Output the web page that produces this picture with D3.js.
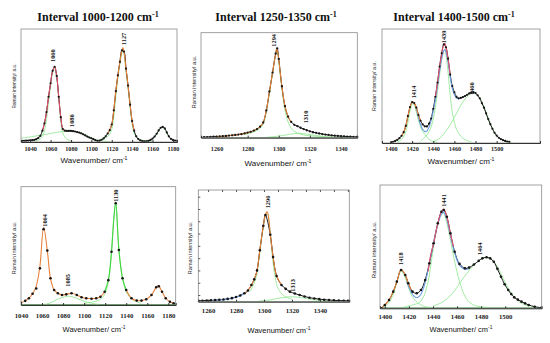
<!DOCTYPE html>
<html>
<head>
<meta charset="utf-8">
<script src="https://cdn.jsdelivr.net/npm/d3@7"></script>
<style>
  body { margin: 0; background: #fff; }
  svg { display: block; }
</style>
</head>
<body>
<svg id="chart" width="550" height="343"></svg>
<script>
// ---------- Panel 1: interval 1000-1200 (top row) ----------
const p1Spectrum = [[1032,1.0],[1034,1.1],[1036,1.2],[1038,1.3],[1040,1.5],[1042,1.6],[1044,1.8],[1046,2.5],[1048,3.6],[1050,5.5],
  [1052,10],[1054,16.5],[1056,26.5],[1058,40],[1060,52],[1062,63],[1064,66.6],[1066,58.5],[1068,40],[1070,22],[1072,11.5],[1074,10],
  [1076,9.8],[1078,9.8],[1080,9.8],[1082,9.6],[1084,9.3],[1086,8.8],[1088,8.3],[1090,7.7],[1092,6.8],[1094,5.8],[1096,4.8],[1098,4.0],
  [1100,3.3],[1102,2.5],[1104,1.6],[1106,1.0],[1108,1.2],[1110,2.0],[1112,3.2],[1114,5],[1116,7.5],[1118,10.5],[1120,15.5],[1122,28],
  [1124,45],[1126,59],[1128,71],[1130,81],[1132,80],[1134,65],[1136,50],[1138,33],[1140,18.5],[1142,10],[1144,5],[1146,2.6],[1148,1.4],
  [1150,0.8],[1152,0.5],[1154,0.6],[1156,1.0],[1158,1.8],[1160,3.0],[1162,4.8],[1164,7.3],[1166,10.2],[1168,12.6],[1170,13.3],[1172,12],
  [1174,8.5],[1176,5],[1178,2.8],[1180,1.8],[1182,1.3],[1184,1.0]];
const p1FitPink = [[1052,10],[1054,16.5],[1056,26.5],[1058,40],[1060,52],[1062,63],[1064,66.6],[1066,58.5],[1068,40],[1070,22],[1072,11.5],[1074,10]];
const p1FitOrange = [[1116,7.5],[1118,10.5],[1120,15.5],[1122,28],[1124,45],[1126,59],[1128,71],[1130,81],[1131,83.5],[1132,80],[1134,65],[1136,50],[1138,33],[1140,18.5],[1142,10]];
const p1Comp1060 = [[1044,0.5],[1048,1.5],[1052,5],[1054,10],[1056,20],[1058,35],[1060,49],[1062,61],[1064,65],[1066,57],[1068,38],[1070,19],[1072,8],[1076,2.5],[1082,0.8]];
const p1Comp1080 = [[1031,3.3],[1040,4.5],[1050,6],[1060,7.5],[1068,8.8],[1074,9.5],[1080,9.6],[1086,8.9],[1092,7.2],[1098,4.5],[1104,2],[1110,0.9],[1118,0.4]];
const p1Comp1127 = [[1104,1],[1110,2],[1114,3.5],[1118,7],[1120,11],[1122,22],[1124,40],[1126,56],[1128,69],[1130,79],[1131,81.5],[1132,78],[1134,62],[1136,47],[1138,30],[1140,16],[1142,8],[1146,3],[1152,1.2],[1160,0.5]];
const p1Comp1170 = [[1150,0.4],[1156,1],[1160,2.6],[1164,6.5],[1166,9.5],[1168,12],[1170,12.9],[1172,11.5],[1174,8],[1176,4.5],[1180,1.6],[1184,0.7]];
const p1Ticks = [1040,1060,1080,1100,1120,1140,1160,1180];
const p1PeakText = ["1060","1080","1127"];
const p1PeakAt = [[1062.5,70.8],[1081.1,13.3],[1131.9,85.8]];

// ---------- Panel 2: interval 1250-1350 (top row) ----------
const p2Spectrum = [[1250,0.3],[1252,0.5],[1254,0.6],[1256,0.8],[1258,0.9],[1260,1.1],[1262,1.2],[1264,1.4],[1266,1.6],[1268,2.0],
  [1270,2.3],[1272,2.6],[1274,3.0],[1276,3.4],[1278,4.1],[1280,4.9],[1282,5.6],[1284,6.8],[1286,8.2],[1288,10.5],[1290,14.5],[1292,26],
  [1294,44],[1296,62],[1298,80],[1299,85],[1300,75],[1302,49],[1304,30],[1306,20],[1308,15],[1310,12.3],[1312,11],[1314,9.5],[1316,8.2],
  [1318,7.1],[1320,6.1],[1322,5.2],[1324,4.6],[1326,4.0],[1328,3.5],[1330,3.0],[1332,2.6],[1334,2.2],[1336,1.9],[1338,1.7],[1340,1.5],
  [1342,1.3],[1344,1.1],[1346,1.0],[1348,0.8],[1350,0.7]];
const p2FitOrange = [[1260,1.1],[1266,1.6],[1272,2.6],[1278,4.1],[1282,5.6],[1286,8.2],[1288,10.5],[1290,14.5],[1292,26],[1294,44],[1296,62],
  [1298,80],[1298.8,85.7],[1300,74],[1302,49],[1304,30],[1306,20],[1308,15]];
const p2Comp1294 = [[1278,3],[1284,5.5],[1288,9],[1290,13],[1292,24],[1294,42],[1296,61],[1298,79],[1298.8,84],[1300,72],[1302,46],[1304,26],
  [1306,15],[1308,9],[1310,6],[1314,3.3],[1320,1.8],[1330,0.8]];
const p2Comp1310 = [[1292,0.4],[1298,1.2],[1302,2],[1306,3],[1310,3.9],[1313,4.2],[1316,3.9],[1320,3],[1326,1.7],[1334,0.7],[1344,0.3]];
const p2Ticks = [1260,1280,1300,1320,1340];
const p2PeakText = ["1294","1310"];
const p2PeakAt = [[1296.8,86.7],[1317.5,13.7]];

// ---------- Panel 3: interval 1400-1500 (top row) ----------
const p3Spectrum = [[1400,0.6],[1402,1.1],[1404,1.8],[1406,2.8],[1408,4.2],[1410,6.3],[1412,9.5],[1414,15],[1416,23.5],[1418,31.5],
  [1420,35.8],[1422,35],[1424,31],[1426,24.5],[1428,19.5],[1430,16.3],[1432,14.6],[1434,14.5],[1436,17],[1438,21.5],[1440,30],[1442,40.5],
  [1444,53],[1446,67],[1448,78.7],[1450,86.5],[1452,84],[1454,74],[1456,60],[1458,50],[1460,44.5],[1462,40.5],[1464,39.2],[1466,39.5],
  [1468,40.3],[1470,41.2],[1472,42.3],[1474,43.5],[1476,44.4],[1478,44.7],[1480,43.8],[1482,41.8],[1484,39.2],[1486,35],[1488,31],
  [1490,26],[1492,21],[1494,16.5],[1496,12.5],[1498,9],[1500,6.5],[1502,4.6],[1504,3.4],[1506,2.5],[1508,1.8],[1510,1.3],[1512,1.0]];
const p3FitOrange = [[1410,6.3],[1412,9.5],[1414,15],[1416,23.5],[1418,31.5],[1420,35.8],[1421,36.2],[1422,35],[1424,31],[1426,24.5],[1428,19.5]];
const p3FitRed = [[1442,40.5],[1444,53],[1446,67],[1448,78.7],[1450,86.5],[1451,87.5],[1452,84],[1454,74],[1456,60]];
const p3FitBlue = [[1424,30],[1426,22.5],[1428,16],[1430,12],[1432,10],[1434,10.5],[1436,14],[1438,20],[1440,28],[1442,38],[1444,50],
  [1446,63],[1448,74],[1450,81],[1451,82],[1452,80],[1454,71],[1456,58],[1458,48],[1460,42.5],[1462,39.5],[1464,38.7]];
const p3Comp1414 = [[1406,1],[1410,3],[1414,10],[1416,18],[1418,28],[1420,34],[1421,34.5],[1422,33.5],[1424,27],[1426,20],[1428,14],
  [1430,10],[1432,7.5],[1434,5],[1438,2],[1444,0.6]];
const p3Comp1439 = [[1428,1.5],[1432,5],[1434,7],[1436,10],[1438,14],[1440,21],[1442,31],[1444,45],[1446,60],[1448,73],[1450,81],[1451,82],
  [1452,78],[1454,62],[1456,42],[1458,27],[1460,18],[1462,12],[1466,6],[1470,3],[1476,1]];
const p3Comp1460 = [[1440,1.5],[1446,4],[1450,8],[1454,13],[1458,19],[1462,26],[1466,33],[1470,38.5],[1474,42.5],[1478,44],[1482,42],
  [1486,36],[1490,27],[1494,17],[1498,9],[1502,4.5],[1508,1.5],[1514,0.5]];
const p3Ticks = [1400,1420,1440,1460,1480,1500];
const p3PeakText = ["1414","1439","1460"];
const p3PeakAt = [[1421.1,39.2],[1450.4,87.5],[1476.4,42.1]];

// ---------- Panel 4: interval 1000-1200 (bottom row) ----------
const p4Spectrum = [[1040,1.9],[1044,3.5],[1047.5,5.7],[1051,9.5],[1054.5,14],[1058,31],[1061.5,64],[1065,46],[1068,22.6],[1071.5,12.7],
  [1075,9.9],[1079,8.5],[1083,9.0],[1088,9.9],[1093,8.5],[1097.5,6.5],[1102,5.7],[1107,5.3],[1111.5,5.7],[1115.5,7.0],[1119.5,11.2],
  [1123,21],[1126,45],[1130,86],[1133,46.5],[1136.5,22.6],[1140,12.7],[1145,5.7],[1150,3.7],[1154.5,3.7],[1159,4.8],[1164,8.5],
  [1168.5,15],[1171,15.8],[1174,11.2],[1177.5,5.7],[1181.5,2.8],[1185,1.4]];
const p4FitOrangeA = [[1040,1.9],[1044,3.5],[1047.5,5.7],[1051,9.5],[1054.5,16],[1058,33],[1061.5,65.7],[1065,46],[1068,22.6],[1071.5,12.7],
  [1075,9.9],[1079,8.5],[1083,9],[1088,9.9],[1093,8.5],[1097.5,6.5],[1102,5.7],[1107,5.3],[1111.5,5.7],[1115.5,7],[1119.5,11.2]];
const p4FitGreen = [[1119.5,11.2],[1123,21],[1126,45],[1128,70],[1130,87],[1133,46.5],[1136.5,22.6],[1140,12.7]];
const p4FitOrangeB = [[1140,12.7],[1145,5.7],[1150,3.7],[1154.5,3.7],[1159,4.8],[1164,8.5],[1168.5,15],[1170.5,16.2],[1174,11.2],
  [1177.5,5.7],[1181.5,2.8],[1185,1.4]];
const p4Comp1085 = [[1062,0.5],[1067,1.5],[1074,4.5],[1080,6.5],[1085,7.4],[1090,6.6],[1096,4.5],[1102,2.6],[1108,1.3],[1114,0.5]];
const p4Comp1130 = [[1100,1.5],[1108,2.5],[1114,4],[1118,7],[1121,12],[1124,25],[1126,45],[1128,72],[1130,86],[1132,60],[1134,38],
  [1137,20],[1140,11],[1146,4.5],[1154,1.5]];
const p4Ticks = [1040,1060,1080,1100,1120,1140,1160,1180];
const p4PeakText = ["1064","1085","1130"];
const p4PeakAt = [[1062.8,66.2],[1084.9,15.5],[1129.8,87.3]];

// ---------- Panel 5: interval 1250-1350 (bottom row) ----------
const p5Spectrum = [[1253,0.8],[1256,0.9],[1259,1.0],[1262,1.2],[1265,1.4],[1268,1.7],[1271,2.0],[1274,2.5],[1277,3.2],[1280,4.2],
  [1283,5.6],[1286,7.6],[1288.5,10],[1291,15],[1293,20],[1295,28],[1297,46],[1299.5,68],[1301,77.6],[1304.5,60],[1306.5,40],[1309,23],
  [1312.5,15],[1315.5,11.5],[1318.5,9],[1322,7.3],[1325.5,6],[1329,4.6],[1332.5,3.6],[1336,2.9],[1339.5,2.3],[1343,1.8],[1346.5,1.5],
  [1350,1.2],[1353.5,1.0],[1357,0.9],[1360,0.8]];
const p5FitOrange = [[1286,7.6],[1288.5,10],[1291,15],[1293,20],[1295,28],[1297,46],[1299.5,68],[1301,77.6],[1302.3,80.6],[1303.5,73],
  [1304.5,60],[1306.5,40],[1309,23],[1312.5,15]];
const p5FitBlue = [[1262,1.1],[1268,1.5],[1274,2.3],[1280,3.9],[1285,6.6],[1289,10]];
const p5Comp1296 = [[1290,9],[1294,20],[1297,44],[1299.5,67],[1301,77],[1302.3,80],[1304,68],[1306,40],[1308,22],[1310,12],[1314,5.5],[1320,2.2]];
const p5Comp1313 = [[1296,0.5],[1302,1.2],[1306,2],[1310,3],[1314,3.8],[1318,4.3],[1321,4.4],[1324,4.1],[1328,3.3],[1334,2],[1342,0.9],[1352,0.3]];
const p5Ticks = [1260,1280,1300,1320,1340];
const p5TopTicks = [1260,1270,1280,1290,1300,1310,1320,1330,1340,1350,1360];
const p5LeftTicks = [6,17,28,39,50,61,72,83,94];
const p5PeakText = ["1296","1313"];
const p5PeakAt = [[1303,83.6],[1320.9,9.0]];

// ---------- Panel 6: interval 1400-1500 (bottom row) ----------
const p6Spectrum = [[1397,0],[1400,2.7],[1403.5,6.7],[1407,13.5],[1410,21.6],[1413.5,31.1],[1417,27],[1419.5,20.3],[1423,13.5],
  [1426.5,12.2],[1430,14.8],[1433.5,23],[1437,36.5],[1440.5,52.7],[1444,68.9],[1447,78.3],[1449,79.7],[1451.5,74.3],[1454.5,60.8],
  [1458,45.9],[1462,36],[1466.5,32.5],[1470,33],[1474,35.5],[1478,38.5],[1481,40.5],[1484.5,41.4],[1487.5,40.5],[1490.5,37.8],
  [1493.5,32],[1496.5,25.6],[1499.5,19.5],[1502.5,14.8],[1505,11.5],[1507.5,8.9],[1510.5,7],[1513.5,5.4],[1516.5,4],[1519.5,2.7],
  [1524.5,1.3],[1530,0.5]];
const p6FitOrange = [[1398,0.8],[1400,2.7],[1403.5,6.7],[1407,13.5],[1410,21.6],[1413.5,31.5],[1417,27],[1419.5,20.3],[1422,15]];
const p6FitBlue = [[1418,22],[1421,15],[1424,10],[1426.5,8.5],[1429,10],[1432,16],[1435,27],[1438,41],[1441,56],[1444,68],[1446.8,76],
  [1448.8,78],[1451,74],[1454,61],[1458,45],[1462,35],[1466.5,31.5],[1470,32]];
const p6FitRed = [[1436,30],[1438,43],[1440.5,52.7],[1444,68.9],[1447,78.3],[1449,80.5],[1451.5,74.3],[1454.5,60.8],[1457,50]];
const p6Comp1418 = [[1398,1],[1402,3],[1405,7],[1408,14],[1410,21],[1413.5,30],[1416,27],[1419,19],[1422,11],[1426,5.5],[1428,4],[1432,1.8],[1438,0.6]];
const p6Comp1441 = [[1416,1],[1422,2.5],[1426,3.5],[1428,4],[1432,9],[1436,22],[1440,47],[1444,68],[1446.8,76],[1448.8,77],[1451,71],
  [1454,58],[1458,38],[1462,22],[1466,11],[1470,5],[1476,2],[1484,0.8]];
const p6Comp1464 = [[1440,2],[1446,4],[1452,8],[1456,12],[1460,17],[1464,23],[1468,28],[1472,33],[1476,37],[1480,40],[1484.3,41],
  [1488,40],[1492,36],[1496,29],[1500,21],[1506,11],[1512,5],[1520,1.5]];
const p6Ticks = [1400,1420,1440,1460,1480,1500];
const p6PeakText = ["1418","1441","1464"];
const p6PeakAt = [[1413.3,35.1],[1448.8,82.4],[1478.8,43.2]];

// ---------- colours ----------
const cComp = "#8be68b", cOrange = "#e8803a", cPink = "#e2506e", cBlue = "#6c9de2", cGreenFit = "#3ed43e", cDot = "#161616";

// layout for each panel (positions in px)
const panels = [
  { id: 1, spec: p1Spectrum, comps: [p1Comp1080, p1Comp1060, p1Comp1127, p1Comp1170],
    fits: [{ pts: p1FitPink, c: cPink }, { pts: p1FitOrange, c: cOrange }],
    peakText: p1PeakText, peakAt: p1PeakAt, ticks: p1Ticks, xDom: [1031, 1184],
    box: { l: 21, t: 29, r: 177, b: 142 }, dataLine: true, r: 1.1, tickPad: 5, tickSize: 6.2,
    title: "Interval 1000-1200 cm", titleX: 98, xlabX: 94, xlabY: 160, xlabSize: 8, ylabX: 14, ylabY: 86, ylabSize: 4.8 },
  { id: 2, spec: p2Spectrum, comps: [p2Comp1294, p2Comp1310], baseline: { c: cComp, w: 1 },
    fits: [{ pts: p2FitOrange, c: cOrange }],
    peakText: p2PeakText, peakAt: p2PeakAt, ticks: p2Ticks, xDom: [1250, 1350.5],
    box: { l: 201, t: 32.7, r: 357.3, b: 137.7 }, dataLine: true, r: 1.15, tickPad: 8.5, tickSize: 6.2,
    title: "Interval 1250-1350 cm", titleX: 276, xlabX: 278, xlabY: 163.3, xlabSize: 8, ylabX: 194, ylabY: 82, ylabSize: 5.6 },
  { id: 3, spec: p3Spectrum, comps: [p3Comp1414, p3Comp1439, p3Comp1460],
    fits: [{ pts: p3FitBlue, c: cBlue }, { pts: p3FitOrange, c: cOrange }, { pts: p3FitRed, c: cPink }],
    peakText: p3PeakText, peakAt: p3PeakAt, ticks: p3Ticks, xDom: [1391.5, 1541],
    box: { l: 382, t: 29, r: 540, b: 143 }, dataLine: true, r: 1.1, tickPad: 3.5, tickSize: 6.2,
    title: "Interval 1400-1500 cm", titleX: 454, xlabX: 461, xlabY: 160.7, xlabSize: 8, ylabX: 374, ylabY: 86, ylabSize: 5.3 },
  { id: 4, spec: p4Spectrum, comps: [p4Comp1085, p4Comp1130], baseline: { c: "#2a8a2a", w: 1.6 },
    fits: [{ pts: p4FitOrangeA, c: cOrange }, { pts: p4FitGreen, c: cGreenFit }, { pts: p4FitOrangeB, c: cOrange }],
    peakText: p4PeakText, peakAt: p4PeakAt, ticks: p4Ticks, xDom: [1040, 1187],
    box: { l: 21, t: 186.7, r: 175.7, b: 305 }, dataLine: false, r: 1.3, tickPad: 8, tickSize: 6.8,
    xlabX: 94, xlabY: 329.3, xlabSize: 7.5, ylabX: 14, ylabY: 248, ylabSize: 5.6 },
  { id: 5, spec: p5Spectrum, comps: [p5Comp1296, p5Comp1313], baseline: { c: cComp, w: 1 },
    fits: [{ pts: p5FitBlue, c: cBlue }, { pts: p5FitOrange, c: cOrange }],
    peakText: p5PeakText, peakAt: p5PeakAt, ticks: p5Ticks, xDom: [1253, 1361],
    topTicks: p5TopTicks, leftTicks: p5LeftTicks,
    box: { l: 198.3, t: 190, r: 349.3, b: 301.7 }, dataLine: true, r: 1.3, tickPad: 6, tickSize: 6.8,
    xlabX: 279, xlabY: 330, xlabSize: 7.5, ylabX: 190, ylabY: 248, ylabSize: 5.6 },
  { id: 6, spec: p6Spectrum, comps: [p6Comp1418, p6Comp1441, p6Comp1464], baseline: { c: "#2a8a2a", w: 1.6 },
    fits: [{ pts: p6FitBlue, c: cBlue }, { pts: p6FitOrange, c: cOrange }, { pts: p6FitRed, c: cPink }],
    peakText: p6PeakText, peakAt: p6PeakAt, ticks: p6Ticks, xDom: [1396, 1530.3],
    box: { l: 380, t: 185, r: 541.7, b: 308.3 }, dataLine: true, r: 1.3, tickPad: 6, tickSize: 6.8,
    xlabX: 461, xlabY: 329.3, xlabSize: 7.5, ylabX: 374, ylabY: 250, ylabSize: 6 }
];

const svg = d3.select("#chart");
const serif = "'Liberation Serif', 'Times New Roman', serif";
const sans = "'Liberation Sans', Arial, sans-serif";

panels.forEach(drawPanel);

function drawPanel(p) {
  const b = p.box;
  const x = d3.scaleLinear().domain(p.xDom).range([b.l, b.r]);
  const y = d3.scaleLinear().domain([0, 100]).range([b.b, b.t]);
  const g = svg.append("g");

  svg.append("clipPath").attr("id", "clip" + p.id)
    .append("rect").attr("x", b.l).attr("y", b.t).attr("width", b.r - b.l).attr("height", b.b - b.t);
  const plot = g.append("g").attr("clip-path", `url(#clip${p.id})`);

  const smooth = d3.line().x(d => x(d[0])).y(d => y(d[1])).curve(d3.curveCatmullRom.alpha(0.5));
  const straight = d3.line().x(d => x(d[0])).y(d => y(d[1]));

  // baseline and fitted components
  if (p.baseline) {
    plot.append("path").datum(p.xDom.map(v => [v, 0])).attr("d", straight)
      .attr("fill", "none").attr("stroke", p.baseline.c).attr("stroke-width", p.baseline.w);
  }
  plot.selectAll(".comp").data(p.comps).join("path").attr("class", "comp")
    .attr("d", smooth).attr("fill", "none").attr("stroke", cComp).attr("stroke-width", 0.8);

  // measured spectrum as a thin line
  if (p.dataLine) {
    plot.append("path").datum(p.spec).attr("d", smooth)
      .attr("fill", "none").attr("stroke", cDot).attr("stroke-width", 1);
  }

  // cumulative fit segments
  plot.selectAll(".fit").data(p.fits).join("path").attr("class", "fit")
    .attr("d", d => smooth(d.pts)).attr("fill", "none")
    .attr("stroke", d => d.c).attr("stroke-width", 1.1);

  // measured points
  plot.selectAll("circle").data(p.spec).join("circle")
    .attr("cx", d => x(d[0])).attr("cy", d => y(d[1])).attr("r", p.r).attr("fill", cDot);

  // frame
  g.append("rect").attr("x", b.l).attr("y", b.t).attr("width", b.r - b.l).attr("height", b.b - b.t)
    .attr("fill", "none").attr("stroke", "#8a8a8a").attr("stroke-width", 0.8);

  // bottom axis
  const ax = g.append("g").attr("transform", `translate(0,${b.b})`)
    .call(d3.axisBottom(x).tickValues(p.ticks).tickSize(-2).tickPadding(p.tickPad).tickFormat(d3.format("d")));
  ax.select(".domain").attr("stroke", "#333").attr("stroke-width", 1);
  ax.selectAll(".tick line").attr("stroke", "#333");
  ax.selectAll(".tick text").attr("font-family", serif).attr("font-weight", "bold")
    .attr("font-size", p.tickSize).attr("fill", "#222");

  if (p.topTicks) {
    const at = g.append("g").attr("transform", `translate(0,${b.t})`)
      .call(d3.axisTop(x).tickValues(p.topTicks).tickSize(-2).tickFormat(""));
    at.select(".domain").remove();
    at.selectAll(".tick line").attr("stroke", "#555");
  }
  if (p.leftTicks) {
    const al = g.append("g").attr("transform", `translate(${b.l},0)`)
      .call(d3.axisLeft(y).tickValues(p.leftTicks).tickSize(-2).tickFormat(""));
    al.select(".domain").remove();
    al.selectAll(".tick line").attr("stroke", "#555");
  }

  // peak labels, rotated
  p.peakText.forEach((t, i) => {
    const [pw, pv] = p.peakAt[i];
    g.append("text")
      .attr("transform", `translate(${x(pw)},${y(pv)}) rotate(-90)`)
      .attr("dy", "0.35em").attr("text-anchor", "start")
      .attr("font-family", serif).attr("font-weight", "bold").attr("font-size", 6.3)
      .attr("fill", "#111").text(t);
  });

  // panel title
  if (p.title) {
    const tt = g.append("text").attr("x", p.titleX).attr("y", 21).attr("text-anchor", "middle")
      .attr("font-family", serif).attr("font-weight", "bold").attr("font-size", 12).attr("fill", "#111");
    tt.append("tspan").text(p.title);
    tt.append("tspan").attr("dy", -4.5).attr("font-size", 8).text("-1");
  }

  // axis titles
  const xt = g.append("text").attr("x", p.xlabX).attr("y", p.xlabY).attr("dy", "0.35em")
    .attr("text-anchor", "middle").attr("font-family", sans).attr("font-size", p.xlabSize).attr("fill", "#111");
  xt.append("tspan").text("Wavenumber/ cm");
  xt.append("tspan").attr("dy", -3).attr("font-size", p.xlabSize * 0.65).text("-1");

  g.append("text").attr("transform", `translate(${p.ylabX},${p.ylabY}) rotate(-90)`)
    .attr("dy", "0.35em").attr("text-anchor", "middle")
    .attr("font-family", sans).attr("font-size", p.ylabSize).attr("fill", "#222")
    .text("Raman intensity/ a.u.");
}
</script>
</body>
</html>
